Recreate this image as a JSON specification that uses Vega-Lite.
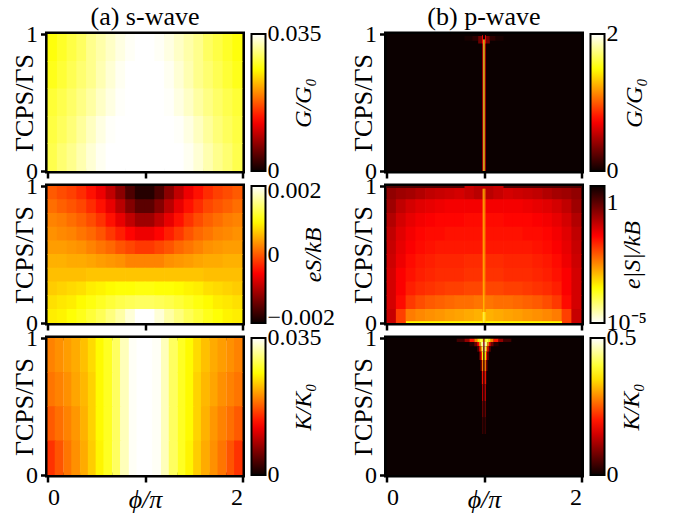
{"$schema":"https://vega.github.io/schema/vega-lite/v6.json","padding":{"left":8.5,"top":1,"right":0,"bottom":0},"background":"white",
"config":{"font":"Liberation Serif","view":{"stroke":"black","strokeWidth":5},
"axis":{"grid":false,"domain":false,"tickColor":"black","tickWidth":2.5,"tickSize":7,"labelFont":"Liberation Serif","titleFont":"Liberation Serif","labelFontSize":24,"titleFontSize":26,"labelColor":"black","titleColor":"black","titleFontWeight":"normal","labelPadding":3,"format":"d"},
"legend":{"type":"gradient","orient":"right","offset":9,"gradientLength":137,"gradientThickness":14,"gradientStrokeColor":"black","gradientStrokeWidth":2,"labelFont":"Liberation Serif","labelFontSize":24,"labelColor":"black","labelOffset":5,"titleFont":"Liberation Serif","titleFontSize":24,"titleFontWeight":"normal","titleFontStyle":"italic","titleColor":"black","titleOrient":"right","titleAnchor":"middle","labelOverlap":false},
"title":{"font":"Liberation Serif","fontSize":26,"fontWeight":"normal","color":"black","anchor":"middle","offset":-8}},
"columns":2,"bounds":"flush","spacing":{"row":15,"column":144},
"resolve":{"scale":{"color":"independent"}},
"concat":[
{"width":195,"height":137,"title":"(a) s-wave","data":{"values":[
{"x":0.05,"y":0.9,"v":0.0265},{"x":0.15,"y":0.9,"v":0.0275},{"x":0.25,"y":0.9,"v":0.0285},{"x":0.35,"y":0.9,"v":0.0295},{"x":0.45,"y":0.9,"v":0.031},{"x":0.55,"y":0.9,"v":0.032},{"x":0.65,"y":0.9,"v":0.033},{"x":0.75,"y":0.9,"v":0.034},{"x":0.85,"y":0.9,"v":0.0347},{"x":0.95,"y":0.9,"v":0.035},{"x":1.05,"y":0.9,"v":0.035},{"x":1.15,"y":0.9,"v":0.0347},{"x":1.25,"y":0.9,"v":0.034},{"x":1.35,"y":0.9,"v":0.033},{"x":1.45,"y":0.9,"v":0.032},{"x":1.55,"y":0.9,"v":0.031},{"x":1.65,"y":0.9,"v":0.0295},{"x":1.75,"y":0.9,"v":0.0285},{"x":1.85,"y":0.9,"v":0.0275},{"x":1.95,"y":0.9,"v":0.0265},
{"x":0.05,"y":0.7,"v":0.027},{"x":0.15,"y":0.7,"v":0.028},{"x":0.25,"y":0.7,"v":0.029},{"x":0.35,"y":0.7,"v":0.03},{"x":0.45,"y":0.7,"v":0.031},{"x":0.55,"y":0.7,"v":0.0323},{"x":0.65,"y":0.7,"v":0.0335},{"x":0.75,"y":0.7,"v":0.0345},{"x":0.85,"y":0.7,"v":0.035},{"x":0.95,"y":0.7,"v":0.035},{"x":1.05,"y":0.7,"v":0.035},{"x":1.15,"y":0.7,"v":0.035},{"x":1.25,"y":0.7,"v":0.0345},{"x":1.35,"y":0.7,"v":0.0335},{"x":1.45,"y":0.7,"v":0.0323},{"x":1.55,"y":0.7,"v":0.031},{"x":1.65,"y":0.7,"v":0.03},{"x":1.75,"y":0.7,"v":0.029},{"x":1.85,"y":0.7,"v":0.028},{"x":1.95,"y":0.7,"v":0.027},
{"x":0.05,"y":0.5,"v":0.028},{"x":0.15,"y":0.5,"v":0.0288},{"x":0.25,"y":0.5,"v":0.0297},{"x":0.35,"y":0.5,"v":0.0307},{"x":0.45,"y":0.5,"v":0.0318},{"x":0.55,"y":0.5,"v":0.033},{"x":0.65,"y":0.5,"v":0.034},{"x":0.75,"y":0.5,"v":0.0348},{"x":0.85,"y":0.5,"v":0.035},{"x":0.95,"y":0.5,"v":0.035},{"x":1.05,"y":0.5,"v":0.035},{"x":1.15,"y":0.5,"v":0.035},{"x":1.25,"y":0.5,"v":0.0348},{"x":1.35,"y":0.5,"v":0.034},{"x":1.45,"y":0.5,"v":0.033},{"x":1.55,"y":0.5,"v":0.0318},{"x":1.65,"y":0.5,"v":0.0307},{"x":1.75,"y":0.5,"v":0.0297},{"x":1.85,"y":0.5,"v":0.0288},{"x":1.95,"y":0.5,"v":0.028},
{"x":0.05,"y":0.3,"v":0.0284},{"x":0.15,"y":0.3,"v":0.0293},{"x":0.25,"y":0.3,"v":0.0303},{"x":0.35,"y":0.3,"v":0.0315},{"x":0.45,"y":0.3,"v":0.0328},{"x":0.55,"y":0.3,"v":0.034},{"x":0.65,"y":0.3,"v":0.0348},{"x":0.75,"y":0.3,"v":0.035},{"x":0.85,"y":0.3,"v":0.035},{"x":0.95,"y":0.3,"v":0.035},{"x":1.05,"y":0.3,"v":0.035},{"x":1.15,"y":0.3,"v":0.035},{"x":1.25,"y":0.3,"v":0.035},{"x":1.35,"y":0.3,"v":0.0348},{"x":1.45,"y":0.3,"v":0.034},{"x":1.55,"y":0.3,"v":0.0328},{"x":1.65,"y":0.3,"v":0.0315},{"x":1.75,"y":0.3,"v":0.0303},{"x":1.85,"y":0.3,"v":0.0293},{"x":1.95,"y":0.3,"v":0.0284},
{"x":0.05,"y":0.1,"v":0.0288},{"x":0.15,"y":0.1,"v":0.03},{"x":0.25,"y":0.1,"v":0.031},{"x":0.35,"y":0.1,"v":0.0322},{"x":0.45,"y":0.1,"v":0.0335},{"x":0.55,"y":0.1,"v":0.0345},{"x":0.65,"y":0.1,"v":0.035},{"x":0.75,"y":0.1,"v":0.035},{"x":0.85,"y":0.1,"v":0.035},{"x":0.95,"y":0.1,"v":0.035},{"x":1.05,"y":0.1,"v":0.035},{"x":1.15,"y":0.1,"v":0.035},{"x":1.25,"y":0.1,"v":0.035},{"x":1.35,"y":0.1,"v":0.035},{"x":1.45,"y":0.1,"v":0.0345},{"x":1.55,"y":0.1,"v":0.0335},{"x":1.65,"y":0.1,"v":0.0322},{"x":1.75,"y":0.1,"v":0.031},{"x":1.85,"y":0.1,"v":0.03},{"x":1.95,"y":0.1,"v":0.0288}
]},"mark":{"type":"rect","width":10.5,"height":28,"clip":true},"encoding":{
"x":{"field":"x","type":"quantitative","scale":{"domain":[0,2],"nice":false},"axis":{"values":[0,1,2],"labels":false,"title":null}},
"y":{"field":"y","type":"quantitative","scale":{"domain":[0,1],"nice":false},"axis":{"values":[0,1],"title":"ΓCPS/ΓS","titlePadding":-12}},
"color":{"field":"v","type":"quantitative","scale":{"domain":[0,0.0128,0.0261,0.035],"range":["#0b0000","#ff0000","#ffff00","#ffffff"],"interpolate":"rgb"},"legend":{"title":"G/G₀","values":[0,0.035],"format":".3~f","titlePadding":-6,"encode":{"labels":{"update":{"baseline":{"value":"middle"}}},"title":{"update":{"angle":{"value":270}}}}}}}},
{"width":195,"height":137,"title":"(b) p-wave","data":{"values":[
{"x":0,"X":2,"y":0,"Y":1,"v":0},
{"x":0.98,"X":0.99,"y":0,"Y":0.96,"v":0.45},{"x":0.99,"X":0.997,"y":0,"Y":0.96,"v":1.25},{"x":0.997,"X":1.003,"y":0,"Y":0.96,"v":1.75},{"x":1.003,"X":1.01,"y":0,"Y":0.96,"v":1.25},{"x":1.01,"X":1.02,"y":0,"Y":0.96,"v":0.45},
{"x":0.8,"X":0.88,"y":0.95,"Y":0.985,"v":0.04},{"x":0.88,"X":0.94,"y":0.95,"Y":0.985,"v":0.1},{"x":0.94,"X":0.98,"y":0.93,"Y":0.985,"v":0.3},{"x":0.98,"X":0.99,"y":0.93,"Y":0.99,"v":0.75},{"x":1.01,"X":1.02,"y":0.93,"Y":0.99,"v":0.75},{"x":1.02,"X":1.06,"y":0.93,"Y":0.985,"v":0.3},{"x":1.06,"X":1.12,"y":0.95,"Y":0.985,"v":0.1},{"x":1.12,"X":1.2,"y":0.95,"Y":0.985,"v":0.04}
]},"mark":{"type":"rect","clip":true},"encoding":{
"x":{"field":"x","type":"quantitative","scale":{"domain":[0,2],"nice":false},"axis":{"values":[0,1,2],"labels":false,"title":null}},"x2":{"field":"X"},
"y":{"field":"y","type":"quantitative","scale":{"domain":[0,1],"nice":false},"axis":{"values":[0,1],"title":"ΓCPS/ΓS","titlePadding":-12}},"y2":{"field":"Y"},
"color":{"field":"v","type":"quantitative","scale":{"domain":[0,0.73,1.49,2],"range":["#0b0000","#ff0000","#ffff00","#ffffff"],"interpolate":"rgb"},"legend":{"title":"G/G₀","values":[0,2],"titlePadding":28,"encode":{"labels":{"update":{"baseline":{"value":"middle"}}},"title":{"update":{"angle":{"value":270}}}}}}}},
{"width":195,"height":137,"data":{"values":[
{"x":0.05,"y":0.95,"v":0},{"x":0.15,"y":0.95,"v":-0.00009},{"x":0.25,"y":0.95,"v":-0.00017},{"x":0.35,"y":0.95,"v":-0.0003},{"x":0.45,"y":0.95,"v":-0.00048},{"x":0.55,"y":0.95,"v":-0.00069},{"x":0.65,"y":0.95,"v":-0.00099},{"x":0.75,"y":0.95,"v":-0.00134},{"x":0.85,"y":0.95,"v":-0.00173},{"x":0.95,"y":0.95,"v":-0.00199},{"x":1.05,"y":0.95,"v":-0.00199},{"x":1.15,"y":0.95,"v":-0.00173},{"x":1.25,"y":0.95,"v":-0.00134},{"x":1.35,"y":0.95,"v":-0.00099},{"x":1.45,"y":0.95,"v":-0.00069},{"x":1.55,"y":0.95,"v":-0.00048},{"x":1.65,"y":0.95,"v":-0.0003},{"x":1.75,"y":0.95,"v":-0.00017},{"x":1.85,"y":0.95,"v":-0.00009},{"x":1.95,"y":0.95,"v":0},
{"x":0.05,"y":0.85,"v":0.00013},{"x":0.15,"y":0.85,"v":0.00004},{"x":0.25,"y":0.85,"v":-0.00004},{"x":0.35,"y":0.85,"v":-0.00013},{"x":0.45,"y":0.85,"v":-0.0003},{"x":0.55,"y":0.85,"v":-0.00048},{"x":0.65,"y":0.85,"v":-0.00073},{"x":0.75,"y":0.85,"v":-0.00104},{"x":0.85,"y":0.85,"v":-0.00138},{"x":0.95,"y":0.85,"v":-0.00164},{"x":1.05,"y":0.85,"v":-0.00164},{"x":1.15,"y":0.85,"v":-0.00138},{"x":1.25,"y":0.85,"v":-0.00104},{"x":1.35,"y":0.85,"v":-0.00073},{"x":1.45,"y":0.85,"v":-0.00048},{"x":1.55,"y":0.85,"v":-0.0003},{"x":1.65,"y":0.85,"v":-0.00013},{"x":1.75,"y":0.85,"v":-0.00004},{"x":1.85,"y":0.85,"v":0.00004},{"x":1.95,"y":0.85,"v":0.00013},
{"x":0.05,"y":0.75,"v":0.00026},{"x":0.15,"y":0.75,"v":0.00022},{"x":0.25,"y":0.75,"v":0.00013},{"x":0.35,"y":0.75,"v":0.00004},{"x":0.45,"y":0.75,"v":-0.00009},{"x":0.55,"y":0.75,"v":-0.00026},{"x":0.65,"y":0.75,"v":-0.00048},{"x":0.75,"y":0.75,"v":-0.00073},{"x":0.85,"y":0.75,"v":-0.00099},{"x":0.95,"y":0.75,"v":-0.00121},{"x":1.05,"y":0.75,"v":-0.00121},{"x":1.15,"y":0.75,"v":-0.00099},{"x":1.25,"y":0.75,"v":-0.00073},{"x":1.35,"y":0.75,"v":-0.00048},{"x":1.45,"y":0.75,"v":-0.00026},{"x":1.55,"y":0.75,"v":-0.00009},{"x":1.65,"y":0.75,"v":0.00004},{"x":1.75,"y":0.75,"v":0.00013},{"x":1.85,"y":0.75,"v":0.00022},{"x":1.95,"y":0.75,"v":0.00026},
{"x":0.05,"y":0.65,"v":0.00035},{"x":0.15,"y":0.65,"v":0.0003},{"x":0.25,"y":0.65,"v":0.00026},{"x":0.35,"y":0.65,"v":0.00017},{"x":0.45,"y":0.65,"v":0.00009},{"x":0.55,"y":0.65,"v":-0.00004},{"x":0.65,"y":0.65,"v":-0.00022},{"x":0.75,"y":0.65,"v":-0.00039},{"x":0.85,"y":0.65,"v":-0.00056},{"x":0.95,"y":0.65,"v":-0.00069},{"x":1.05,"y":0.65,"v":-0.00069},{"x":1.15,"y":0.65,"v":-0.00056},{"x":1.25,"y":0.65,"v":-0.00039},{"x":1.35,"y":0.65,"v":-0.00022},{"x":1.45,"y":0.65,"v":-0.00004},{"x":1.55,"y":0.65,"v":0.00009},{"x":1.65,"y":0.65,"v":0.00017},{"x":1.75,"y":0.65,"v":0.00026},{"x":1.85,"y":0.65,"v":0.0003},{"x":1.95,"y":0.65,"v":0.00035},
{"x":0.05,"y":0.55,"v":0.00043},{"x":0.15,"y":0.55,"v":0.00043},{"x":0.25,"y":0.55,"v":0.00039},{"x":0.35,"y":0.55,"v":0.00035},{"x":0.45,"y":0.55,"v":0.00026},{"x":0.55,"y":0.55,"v":0.00017},{"x":0.65,"y":0.55,"v":0.00009},{"x":0.75,"y":0.55,"v":-0.00004},{"x":0.85,"y":0.55,"v":-0.00013},{"x":0.95,"y":0.55,"v":-0.00022},{"x":1.05,"y":0.55,"v":-0.00022},{"x":1.15,"y":0.55,"v":-0.00013},{"x":1.25,"y":0.55,"v":-0.00004},{"x":1.35,"y":0.55,"v":0.00009},{"x":1.45,"y":0.55,"v":0.00017},{"x":1.55,"y":0.55,"v":0.00026},{"x":1.65,"y":0.55,"v":0.00035},{"x":1.75,"y":0.55,"v":0.00039},{"x":1.85,"y":0.55,"v":0.00043},{"x":1.95,"y":0.55,"v":0.00043},
{"x":0.05,"y":0.45,"v":0.00056},{"x":0.15,"y":0.45,"v":0.00056},{"x":0.25,"y":0.45,"v":0.00052},{"x":0.35,"y":0.45,"v":0.00052},{"x":0.45,"y":0.45,"v":0.00048},{"x":0.55,"y":0.45,"v":0.00043},{"x":0.65,"y":0.45,"v":0.00039},{"x":0.75,"y":0.45,"v":0.00035},{"x":0.85,"y":0.45,"v":0.00026},{"x":0.95,"y":0.45,"v":0.00026},{"x":1.05,"y":0.45,"v":0.00026},{"x":1.15,"y":0.45,"v":0.00026},{"x":1.25,"y":0.45,"v":0.00035},{"x":1.35,"y":0.45,"v":0.00039},{"x":1.45,"y":0.45,"v":0.00043},{"x":1.55,"y":0.45,"v":0.00048},{"x":1.65,"y":0.45,"v":0.00052},{"x":1.75,"y":0.45,"v":0.00052},{"x":1.85,"y":0.45,"v":0.00056},{"x":1.95,"y":0.45,"v":0.00056},
{"x":0.05,"y":0.35,"v":0.00065},{"x":0.15,"y":0.35,"v":0.00065},{"x":0.25,"y":0.35,"v":0.00065},{"x":0.35,"y":0.35,"v":0.00065},{"x":0.45,"y":0.35,"v":0.00069},{"x":0.55,"y":0.35,"v":0.00069},{"x":0.65,"y":0.35,"v":0.00069},{"x":0.75,"y":0.35,"v":0.00069},{"x":0.85,"y":0.35,"v":0.00069},{"x":0.95,"y":0.35,"v":0.00069},{"x":1.05,"y":0.35,"v":0.00069},{"x":1.15,"y":0.35,"v":0.00069},{"x":1.25,"y":0.35,"v":0.00069},{"x":1.35,"y":0.35,"v":0.00069},{"x":1.45,"y":0.35,"v":0.00069},{"x":1.55,"y":0.35,"v":0.00069},{"x":1.65,"y":0.35,"v":0.00065},{"x":1.75,"y":0.35,"v":0.00065},{"x":1.85,"y":0.35,"v":0.00065},{"x":1.95,"y":0.35,"v":0.00065},
{"x":0.05,"y":0.25,"v":0.00073},{"x":0.15,"y":0.25,"v":0.00078},{"x":0.25,"y":0.25,"v":0.00082},{"x":0.35,"y":0.25,"v":0.00086},{"x":0.45,"y":0.25,"v":0.00095},{"x":0.55,"y":0.25,"v":0.00099},{"x":0.65,"y":0.25,"v":0.00104},{"x":0.75,"y":0.25,"v":0.00108},{"x":0.85,"y":0.25,"v":0.00108},{"x":0.95,"y":0.25,"v":0.00112},{"x":1.05,"y":0.25,"v":0.00112},{"x":1.15,"y":0.25,"v":0.00108},{"x":1.25,"y":0.25,"v":0.00108},{"x":1.35,"y":0.25,"v":0.00104},{"x":1.45,"y":0.25,"v":0.00099},{"x":1.55,"y":0.25,"v":0.00095},{"x":1.65,"y":0.25,"v":0.00086},{"x":1.75,"y":0.25,"v":0.00082},{"x":1.85,"y":0.25,"v":0.00078},{"x":1.95,"y":0.25,"v":0.00073},
{"x":0.05,"y":0.15,"v":0.00086},{"x":0.15,"y":0.15,"v":0.00091},{"x":0.25,"y":0.15,"v":0.00095},{"x":0.35,"y":0.15,"v":0.00104},{"x":0.45,"y":0.15,"v":0.00112},{"x":0.55,"y":0.15,"v":0.00121},{"x":0.65,"y":0.15,"v":0.0013},{"x":0.75,"y":0.15,"v":0.00138},{"x":0.85,"y":0.15,"v":0.00143},{"x":0.95,"y":0.15,"v":0.00147},{"x":1.05,"y":0.15,"v":0.00147},{"x":1.15,"y":0.15,"v":0.00143},{"x":1.25,"y":0.15,"v":0.00138},{"x":1.35,"y":0.15,"v":0.0013},{"x":1.45,"y":0.15,"v":0.00121},{"x":1.55,"y":0.15,"v":0.00112},{"x":1.65,"y":0.15,"v":0.00104},{"x":1.75,"y":0.15,"v":0.00095},{"x":1.85,"y":0.15,"v":0.00091},{"x":1.95,"y":0.15,"v":0.00086},
{"x":0.05,"y":0.05,"v":0.00095},{"x":0.15,"y":0.05,"v":0.00099},{"x":0.25,"y":0.05,"v":0.00108},{"x":0.35,"y":0.05,"v":0.00117},{"x":0.45,"y":0.05,"v":0.0013},{"x":0.55,"y":0.05,"v":0.00143},{"x":0.65,"y":0.05,"v":0.0016},{"x":0.75,"y":0.05,"v":0.00177},{"x":0.85,"y":0.05,"v":0.00199},{"x":0.95,"y":0.05,"v":0.00216},{"x":1.05,"y":0.05,"v":0.00216},{"x":1.15,"y":0.05,"v":0.00199},{"x":1.25,"y":0.05,"v":0.00177},{"x":1.35,"y":0.05,"v":0.0016},{"x":1.45,"y":0.05,"v":0.00143},{"x":1.55,"y":0.05,"v":0.0013},{"x":1.65,"y":0.05,"v":0.00117},{"x":1.75,"y":0.05,"v":0.00108},{"x":1.85,"y":0.05,"v":0.00099},{"x":1.95,"y":0.05,"v":0.00095}
]},"mark":{"type":"rect","width":10.5,"height":14.5,"clip":true},"encoding":{
"x":{"field":"x","type":"quantitative","scale":{"domain":[0,2],"nice":false},"axis":{"values":[0,1,2],"labels":false,"title":null}},
"y":{"field":"y","type":"quantitative","scale":{"domain":[0,1],"nice":false},"axis":{"values":[0,1],"title":"ΓCPS/ΓS","titlePadding":-12}},
"color":{"field":"v","type":"quantitative","scale":{"domain":[-0.00216,-0.00058,0.00106,0.00216],"range":["#0b0000","#ff0000","#ffff00","#ffffff"],"interpolate":"rgb"},"legend":{"title":"eS/kB","values":[-0.002,0,0.002],"format":".3~f","titlePadding":-10,"encode":{"labels":{"update":{"baseline":{"value":"middle"}}},"title":{"update":{"angle":{"value":270}}}}}}}},
{"width":195,"height":137,"layer":[{"data":{"values":[
{"x":0.05,"y":0.95,"v":0.363},{"x":0.15,"y":0.95,"v":0.279},{"x":0.25,"y":0.95,"v":0.245},{"x":0.35,"y":0.95,"v":0.188},{"x":0.45,"y":0.95,"v":0.145},{"x":0.55,"y":0.95,"v":0.127},{"x":0.65,"y":0.95,"v":0.112},{"x":0.75,"y":0.95,"v":0.098},{"x":0.85,"y":0.95,"v":0.127},{"x":0.95,"y":0.95,"v":0.165},{"x":1.05,"y":0.95,"v":0.165},{"x":1.15,"y":0.95,"v":0.127},{"x":1.25,"y":0.95,"v":0.098},{"x":1.35,"y":0.95,"v":0.112},{"x":1.45,"y":0.95,"v":0.127},{"x":1.55,"y":0.95,"v":0.145},{"x":1.65,"y":0.95,"v":0.188},{"x":1.75,"y":0.95,"v":0.245},{"x":1.85,"y":0.95,"v":0.279},{"x":1.95,"y":0.95,"v":0.363},
{"x":0.05,"y":0.85,"v":0.279},{"x":0.15,"y":0.85,"v":0.145},{"x":0.25,"y":0.85,"v":0.098},{"x":0.35,"y":0.85,"v":0.0755},{"x":0.45,"y":0.85,"v":0.0662},{"x":0.55,"y":0.85,"v":0.058},{"x":0.65,"y":0.85,"v":0.051},{"x":0.75,"y":0.85,"v":0.051},{"x":0.85,"y":0.85,"v":0.051},{"x":0.95,"y":0.85,"v":0.051},{"x":1.05,"y":0.85,"v":0.051},{"x":1.15,"y":0.85,"v":0.051},{"x":1.25,"y":0.85,"v":0.051},{"x":1.35,"y":0.85,"v":0.051},{"x":1.45,"y":0.85,"v":0.058},{"x":1.55,"y":0.85,"v":0.0662},{"x":1.65,"y":0.85,"v":0.0755},{"x":1.75,"y":0.85,"v":0.098},{"x":1.85,"y":0.85,"v":0.145},{"x":1.95,"y":0.85,"v":0.279},
{"x":0.05,"y":0.75,"v":0.188},{"x":0.15,"y":0.75,"v":0.098},{"x":0.25,"y":0.75,"v":0.0662},{"x":0.35,"y":0.75,"v":0.051},{"x":0.45,"y":0.75,"v":0.0447},{"x":0.55,"y":0.75,"v":0.0392},{"x":0.65,"y":0.75,"v":0.0392},{"x":0.75,"y":0.75,"v":0.0392},{"x":0.85,"y":0.75,"v":0.0344},{"x":0.95,"y":0.75,"v":0.0344},{"x":1.05,"y":0.75,"v":0.0344},{"x":1.15,"y":0.75,"v":0.0344},{"x":1.25,"y":0.75,"v":0.0392},{"x":1.35,"y":0.75,"v":0.0392},{"x":1.45,"y":0.75,"v":0.0392},{"x":1.55,"y":0.75,"v":0.0447},{"x":1.65,"y":0.75,"v":0.051},{"x":1.75,"y":0.75,"v":0.0662},{"x":1.85,"y":0.75,"v":0.098},{"x":1.95,"y":0.75,"v":0.188},
{"x":0.05,"y":0.65,"v":0.145},{"x":0.15,"y":0.65,"v":0.0755},{"x":0.25,"y":0.65,"v":0.051},{"x":0.35,"y":0.65,"v":0.0392},{"x":0.45,"y":0.65,"v":0.0344},{"x":0.55,"y":0.65,"v":0.0344},{"x":0.65,"y":0.65,"v":0.0302},{"x":0.75,"y":0.65,"v":0.0302},{"x":0.85,"y":0.65,"v":0.0302},{"x":0.95,"y":0.65,"v":0.0302},{"x":1.05,"y":0.65,"v":0.0302},{"x":1.15,"y":0.65,"v":0.0302},{"x":1.25,"y":0.65,"v":0.0302},{"x":1.35,"y":0.65,"v":0.0302},{"x":1.45,"y":0.65,"v":0.0344},{"x":1.55,"y":0.65,"v":0.0344},{"x":1.65,"y":0.65,"v":0.0392},{"x":1.75,"y":0.65,"v":0.051},{"x":1.85,"y":0.65,"v":0.0755},{"x":1.95,"y":0.65,"v":0.145},
{"x":0.05,"y":0.55,"v":0.127},{"x":0.15,"y":0.55,"v":0.0662},{"x":0.25,"y":0.55,"v":0.0447},{"x":0.35,"y":0.55,"v":0.0344},{"x":0.45,"y":0.55,"v":0.0302},{"x":0.55,"y":0.55,"v":0.0265},{"x":0.65,"y":0.55,"v":0.0265},{"x":0.75,"y":0.55,"v":0.0265},{"x":0.85,"y":0.55,"v":0.0265},{"x":0.95,"y":0.55,"v":0.0265},{"x":1.05,"y":0.55,"v":0.0265},{"x":1.15,"y":0.55,"v":0.0265},{"x":1.25,"y":0.55,"v":0.0265},{"x":1.35,"y":0.55,"v":0.0265},{"x":1.45,"y":0.55,"v":0.0265},{"x":1.55,"y":0.55,"v":0.0302},{"x":1.65,"y":0.55,"v":0.0344},{"x":1.75,"y":0.55,"v":0.0447},{"x":1.85,"y":0.55,"v":0.0662},{"x":1.95,"y":0.55,"v":0.127},
{"x":0.05,"y":0.45,"v":0.112},{"x":0.15,"y":0.45,"v":0.058},{"x":0.25,"y":0.45,"v":0.0344},{"x":0.35,"y":0.45,"v":0.0265},{"x":0.45,"y":0.45,"v":0.0232},{"x":0.55,"y":0.45,"v":0.0204},{"x":0.65,"y":0.45,"v":0.0204},{"x":0.75,"y":0.45,"v":0.0204},{"x":0.85,"y":0.45,"v":0.0179},{"x":0.95,"y":0.45,"v":0.0179},{"x":1.05,"y":0.45,"v":0.0179},{"x":1.15,"y":0.45,"v":0.0179},{"x":1.25,"y":0.45,"v":0.0204},{"x":1.35,"y":0.45,"v":0.0204},{"x":1.45,"y":0.45,"v":0.0204},{"x":1.55,"y":0.45,"v":0.0232},{"x":1.65,"y":0.45,"v":0.0265},{"x":1.75,"y":0.45,"v":0.0344},{"x":1.85,"y":0.45,"v":0.058},{"x":1.95,"y":0.45,"v":0.112},
{"x":0.05,"y":0.35,"v":0.098},{"x":0.15,"y":0.35,"v":0.0447},{"x":0.25,"y":0.35,"v":0.0302},{"x":0.35,"y":0.35,"v":0.0232},{"x":0.45,"y":0.35,"v":0.0204},{"x":0.55,"y":0.35,"v":0.0179},{"x":0.65,"y":0.35,"v":0.0179},{"x":0.75,"y":0.35,"v":0.0179},{"x":0.85,"y":0.35,"v":0.0157},{"x":0.95,"y":0.35,"v":0.0157},{"x":1.05,"y":0.35,"v":0.0157},{"x":1.15,"y":0.35,"v":0.0157},{"x":1.25,"y":0.35,"v":0.0179},{"x":1.35,"y":0.35,"v":0.0179},{"x":1.45,"y":0.35,"v":0.0179},{"x":1.55,"y":0.35,"v":0.0204},{"x":1.65,"y":0.35,"v":0.0232},{"x":1.75,"y":0.35,"v":0.0302},{"x":1.85,"y":0.35,"v":0.0447},{"x":1.95,"y":0.35,"v":0.098},
{"x":0.05,"y":0.25,"v":0.098},{"x":0.15,"y":0.25,"v":0.0447},{"x":0.25,"y":0.25,"v":0.0232},{"x":0.35,"y":0.25,"v":0.0179},{"x":0.45,"y":0.25,"v":0.0157},{"x":0.55,"y":0.25,"v":0.0136},{"x":0.65,"y":0.25,"v":0.0121},{"x":0.75,"y":0.25,"v":0.0121},{"x":0.85,"y":0.25,"v":0.0107},{"x":0.95,"y":0.25,"v":0.0107},{"x":1.05,"y":0.25,"v":0.0107},{"x":1.15,"y":0.25,"v":0.0107},{"x":1.25,"y":0.25,"v":0.0121},{"x":1.35,"y":0.25,"v":0.0121},{"x":1.45,"y":0.25,"v":0.0136},{"x":1.55,"y":0.25,"v":0.0157},{"x":1.65,"y":0.25,"v":0.0179},{"x":1.75,"y":0.25,"v":0.0232},{"x":1.85,"y":0.25,"v":0.0447},{"x":1.95,"y":0.25,"v":0.098},
{"x":0.05,"y":0.15,"v":0.098},{"x":0.15,"y":0.15,"v":0.0344},{"x":0.25,"y":0.15,"v":0.0136},{"x":0.35,"y":0.15,"v":0.0093},{"x":0.45,"y":0.15,"v":0.0071},{"x":0.55,"y":0.15,"v":0.0062},{"x":0.65,"y":0.15,"v":0.0054},{"x":0.75,"y":0.15,"v":0.0048},{"x":0.85,"y":0.15,"v":0.0048},{"x":0.95,"y":0.15,"v":0.0042},{"x":1.05,"y":0.15,"v":0.0042},{"x":1.15,"y":0.15,"v":0.0048},{"x":1.25,"y":0.15,"v":0.0048},{"x":1.35,"y":0.15,"v":0.0054},{"x":1.45,"y":0.15,"v":0.0062},{"x":1.55,"y":0.15,"v":0.0071},{"x":1.65,"y":0.15,"v":0.0093},{"x":1.75,"y":0.15,"v":0.0136},{"x":1.85,"y":0.15,"v":0.0344},{"x":1.95,"y":0.15,"v":0.098},
{"x":0.05,"y":0.05,"v":0.127},{"x":0.15,"y":0.05,"v":0.0121},{"x":0.25,"y":0.05,"v":0.0037},{"x":0.35,"y":0.05,"v":0.0029},{"x":0.45,"y":0.05,"v":0.0025},{"x":0.55,"y":0.05,"v":0.0022},{"x":0.65,"y":0.05,"v":0.0019},{"x":0.75,"y":0.05,"v":0.0017},{"x":0.85,"y":0.05,"v":0.0015},{"x":0.95,"y":0.05,"v":0.0013},{"x":1.05,"y":0.05,"v":0.0013},{"x":1.15,"y":0.05,"v":0.0015},{"x":1.25,"y":0.05,"v":0.0017},{"x":1.35,"y":0.05,"v":0.0019},{"x":1.45,"y":0.05,"v":0.0022},{"x":1.55,"y":0.05,"v":0.0025},{"x":1.65,"y":0.05,"v":0.0029},{"x":1.75,"y":0.05,"v":0.0037},{"x":1.85,"y":0.05,"v":0.0121},{"x":1.95,"y":0.05,"v":0.127}
]},"mark":{"type":"rect","width":10.5,"height":14.5,"clip":true},"encoding":{
"x":{"field":"x","type":"quantitative","scale":{"domain":[0,2],"nice":false},"axis":{"values":[0,1,2],"labels":false,"title":null}},
"y":{"field":"y","type":"quantitative","scale":{"domain":[0,1],"nice":false},"axis":{"values":[0,1],"title":"ΓCPS/ΓS","titlePadding":-12}},
"color":{"field":"v","type":"quantitative","scale":{"type":"log","domain":[0.00001,0.00028,0.042,5],"range":["#ffffff","#ffff00","#ff0000","#0b0000"],"interpolate":"rgb"},"legend":{"title":"e|S|/kB","values":[0.00001,1],"labelExpr":"datum.value<0.1?'10⁻⁵':'1'","titlePadding":-2,"encode":{"labels":{"update":{"baseline":{"value":"middle"}}},"title":{"update":{"angle":{"value":270}}}}}}}},
{"data":{"values":[
{"x":0.985,"X":0.995,"y":0.08,"Y":0.98,"v":0.0037},{"x":0.995,"X":1.005,"y":0.08,"Y":0.98,"v":0.00039},{"x":1.005,"X":1.015,"y":0.08,"Y":0.98,"v":0.0037},
{"x":0.985,"X":0.995,"y":0,"Y":0.08,"v":0.00039},{"x":0.995,"X":1.005,"y":0,"Y":0.08,"v":0.00005},{"x":1.005,"X":1.015,"y":0,"Y":0.08,"v":0.00039},
{"x":0.2,"X":0.985,"y":0,"Y":0.012,"v":0.00028},{"x":1.015,"X":1.8,"y":0,"Y":0.012,"v":0.00028},
{"x":0,"X":0.8,"y":0.985,"Y":1,"v":1.35},{"x":1.2,"X":2,"y":0.985,"Y":1,"v":1.35}
]},"mark":{"type":"rect","clip":true},"encoding":{"x":{"field":"x","type":"quantitative"},"x2":{"field":"X"},"y":{"field":"y","type":"quantitative"},"y2":{"field":"Y"},"color":{"field":"v","type":"quantitative"}}}
]},
{"width":195,"height":137,"data":{"values":[
{"x":0.04,"y":0.875,"v":0.0196},{"x":0.12,"y":0.875,"v":0.0203},{"x":0.21,"y":0.875,"v":0.021},{"x":0.29,"y":0.875,"v":0.0217},{"x":0.38,"y":0.875,"v":0.0228},{"x":0.46,"y":0.875,"v":0.0242},{"x":0.54,"y":0.875,"v":0.0259},{"x":0.62,"y":0.875,"v":0.0273},{"x":0.71,"y":0.875,"v":0.0294},{"x":0.79,"y":0.875,"v":0.0326},{"x":0.88,"y":0.875,"v":0.0347},{"x":0.96,"y":0.875,"v":0.035},{"x":1.04,"y":0.875,"v":0.035},{"x":1.12,"y":0.875,"v":0.0347},{"x":1.21,"y":0.875,"v":0.0326},{"x":1.29,"y":0.875,"v":0.0294},{"x":1.38,"y":0.875,"v":0.0273},{"x":1.46,"y":0.875,"v":0.0259},{"x":1.54,"y":0.875,"v":0.0242},{"x":1.62,"y":0.875,"v":0.0228},{"x":1.71,"y":0.875,"v":0.0217},{"x":1.79,"y":0.875,"v":0.021},{"x":1.88,"y":0.875,"v":0.0203},{"x":1.96,"y":0.875,"v":0.0196},
{"x":0.04,"y":0.625,"v":0.0189},{"x":0.12,"y":0.625,"v":0.0196},{"x":0.21,"y":0.625,"v":0.0203},{"x":0.29,"y":0.625,"v":0.0214},{"x":0.38,"y":0.625,"v":0.0224},{"x":0.46,"y":0.625,"v":0.0238},{"x":0.54,"y":0.625,"v":0.0259},{"x":0.62,"y":0.625,"v":0.0273},{"x":0.71,"y":0.625,"v":0.0294},{"x":0.79,"y":0.625,"v":0.0326},{"x":0.88,"y":0.625,"v":0.0347},{"x":0.96,"y":0.625,"v":0.035},{"x":1.04,"y":0.625,"v":0.035},{"x":1.12,"y":0.625,"v":0.0347},{"x":1.21,"y":0.625,"v":0.0326},{"x":1.29,"y":0.625,"v":0.0294},{"x":1.38,"y":0.625,"v":0.0273},{"x":1.46,"y":0.625,"v":0.0259},{"x":1.54,"y":0.625,"v":0.0238},{"x":1.62,"y":0.625,"v":0.0224},{"x":1.71,"y":0.625,"v":0.0214},{"x":1.79,"y":0.625,"v":0.0203},{"x":1.88,"y":0.625,"v":0.0196},{"x":1.96,"y":0.625,"v":0.0189},
{"x":0.04,"y":0.375,"v":0.0175},{"x":0.12,"y":0.375,"v":0.0186},{"x":0.21,"y":0.375,"v":0.0196},{"x":0.29,"y":0.375,"v":0.0207},{"x":0.38,"y":0.375,"v":0.0221},{"x":0.46,"y":0.375,"v":0.0238},{"x":0.54,"y":0.375,"v":0.0259},{"x":0.62,"y":0.375,"v":0.0273},{"x":0.71,"y":0.375,"v":0.0294},{"x":0.79,"y":0.375,"v":0.0326},{"x":0.88,"y":0.375,"v":0.0347},{"x":0.96,"y":0.375,"v":0.035},{"x":1.04,"y":0.375,"v":0.035},{"x":1.12,"y":0.375,"v":0.0347},{"x":1.21,"y":0.375,"v":0.0326},{"x":1.29,"y":0.375,"v":0.0294},{"x":1.38,"y":0.375,"v":0.0273},{"x":1.46,"y":0.375,"v":0.0259},{"x":1.54,"y":0.375,"v":0.0238},{"x":1.62,"y":0.375,"v":0.0221},{"x":1.71,"y":0.375,"v":0.0207},{"x":1.79,"y":0.375,"v":0.0196},{"x":1.88,"y":0.375,"v":0.0186},{"x":1.96,"y":0.375,"v":0.0175},
{"x":0.04,"y":0.125,"v":0.0154},{"x":0.12,"y":0.125,"v":0.0172},{"x":0.21,"y":0.125,"v":0.0189},{"x":0.29,"y":0.125,"v":0.0203},{"x":0.38,"y":0.125,"v":0.0217},{"x":0.46,"y":0.125,"v":0.0235},{"x":0.54,"y":0.125,"v":0.0256},{"x":0.62,"y":0.125,"v":0.0273},{"x":0.71,"y":0.125,"v":0.0294},{"x":0.79,"y":0.125,"v":0.0326},{"x":0.88,"y":0.125,"v":0.0347},{"x":0.96,"y":0.125,"v":0.035},{"x":1.04,"y":0.125,"v":0.035},{"x":1.12,"y":0.125,"v":0.0347},{"x":1.21,"y":0.125,"v":0.0326},{"x":1.29,"y":0.125,"v":0.0294},{"x":1.38,"y":0.125,"v":0.0273},{"x":1.46,"y":0.125,"v":0.0256},{"x":1.54,"y":0.125,"v":0.0235},{"x":1.62,"y":0.125,"v":0.0217},{"x":1.71,"y":0.125,"v":0.0203},{"x":1.79,"y":0.125,"v":0.0189},{"x":1.88,"y":0.125,"v":0.0172},{"x":1.96,"y":0.125,"v":0.0154}
]},"mark":{"type":"rect","width":9,"height":35,"clip":true},"encoding":{
"x":{"field":"x","type":"quantitative","scale":{"domain":[0,2],"nice":false},"axis":{"values":[0,1,2],"labelExpr":"datum.value==1?'':datum.label","title":"ϕ/π","titleFontStyle":"italic","titlePadding":-23}},
"y":{"field":"y","type":"quantitative","scale":{"domain":[0,1],"nice":false},"axis":{"values":[0,1],"title":"ΓCPS/ΓS","titlePadding":-12}},
"color":{"field":"v","type":"quantitative","scale":{"domain":[0,0.0128,0.0261,0.035],"range":["#0b0000","#ff0000","#ffff00","#ffffff"],"interpolate":"rgb"},"legend":{"title":"K/K₀","values":[0,0.035],"format":".3~f","titlePadding":-6,"encode":{"labels":{"update":{"baseline":{"value":"middle"}}},"title":{"update":{"angle":{"value":270}}}}}}}},
{"width":195,"height":137,"data":{"values":[
{"x":0,"X":2,"y":0,"Y":1,"v":0},
{"x":0.72,"X":0.8,"y":0.97,"Y":0.995,"v":0.04},{"x":0.8,"X":0.85,"y":0.97,"Y":0.995,"v":0.1},{"x":0.85,"X":0.9,"y":0.97,"Y":0.995,"v":0.2},{"x":0.9,"X":0.93,"y":0.97,"Y":0.995,"v":0.275},{"x":0.93,"X":0.95,"y":0.97,"Y":0.995,"v":0.35},{"x":0.95,"X":0.98,"y":0.97,"Y":0.995,"v":0.4},{"x":0.98,"X":0.994,"y":0.97,"Y":0.995,"v":0.4},{"x":0.994,"X":1.006,"y":0.97,"Y":0.995,"v":0.15},{"x":1.006,"X":1.02,"y":0.97,"Y":0.995,"v":0.4},{"x":1.02,"X":1.05,"y":0.97,"Y":0.995,"v":0.4},{"x":1.05,"X":1.07,"y":0.97,"Y":0.995,"v":0.35},{"x":1.07,"X":1.1,"y":0.97,"Y":0.995,"v":0.275},{"x":1.1,"X":1.15,"y":0.97,"Y":0.995,"v":0.2},{"x":1.15,"X":1.2,"y":0.97,"Y":0.995,"v":0.1},{"x":1.2,"X":1.28,"y":0.97,"Y":0.995,"v":0.04},
{"x":0.85,"X":0.9,"y":0.94,"Y":0.97,"v":0.02},{"x":0.9,"X":0.93,"y":0.94,"Y":0.97,"v":0.075},{"x":0.93,"X":0.95,"y":0.94,"Y":0.97,"v":0.175},{"x":0.95,"X":0.965,"y":0.94,"Y":0.97,"v":0.3},{"x":0.965,"X":0.98,"y":0.94,"Y":0.97,"v":0.42},{"x":0.98,"X":0.994,"y":0.94,"Y":0.97,"v":0.47},{"x":0.994,"X":1.006,"y":0.94,"Y":0.97,"v":0.15},{"x":1.006,"X":1.02,"y":0.94,"Y":0.97,"v":0.47},{"x":1.02,"X":1.035,"y":0.94,"Y":0.97,"v":0.42},{"x":1.035,"X":1.05,"y":0.94,"Y":0.97,"v":0.3},{"x":1.05,"X":1.07,"y":0.94,"Y":0.97,"v":0.175},{"x":1.07,"X":1.1,"y":0.94,"Y":0.97,"v":0.075},{"x":1.1,"X":1.15,"y":0.94,"Y":0.97,"v":0.02},
{"x":0.93,"X":0.95,"y":0.9,"Y":0.94,"v":0.05},{"x":0.95,"X":0.965,"y":0.9,"Y":0.94,"v":0.175},{"x":0.965,"X":0.98,"y":0.9,"Y":0.94,"v":0.3},{"x":0.98,"X":0.994,"y":0.9,"Y":0.94,"v":0.43},{"x":0.994,"X":1.006,"y":0.9,"Y":0.94,"v":0.1},{"x":1.006,"X":1.02,"y":0.9,"Y":0.94,"v":0.43},{"x":1.02,"X":1.035,"y":0.9,"Y":0.94,"v":0.3},{"x":1.035,"X":1.05,"y":0.9,"Y":0.94,"v":0.175},{"x":1.05,"X":1.07,"y":0.9,"Y":0.94,"v":0.05},
{"x":0.95,"X":0.965,"y":0.84,"Y":0.9,"v":0.06},{"x":0.965,"X":0.98,"y":0.84,"Y":0.9,"v":0.2},{"x":0.98,"X":0.994,"y":0.84,"Y":0.9,"v":0.38},{"x":0.994,"X":1.006,"y":0.84,"Y":0.9,"v":0.07},{"x":1.006,"X":1.02,"y":0.84,"Y":0.9,"v":0.38},{"x":1.02,"X":1.035,"y":0.84,"Y":0.9,"v":0.2},{"x":1.035,"X":1.05,"y":0.84,"Y":0.9,"v":0.06},
{"x":0.965,"X":0.98,"y":0.76,"Y":0.84,"v":0.08},{"x":0.98,"X":0.994,"y":0.76,"Y":0.84,"v":0.28},{"x":0.994,"X":1.006,"y":0.76,"Y":0.84,"v":0.05},{"x":1.006,"X":1.02,"y":0.76,"Y":0.84,"v":0.28},{"x":1.02,"X":1.035,"y":0.76,"Y":0.84,"v":0.08},
{"x":0.97,"X":0.98,"y":0.66,"Y":0.76,"v":0.03},{"x":0.98,"X":0.994,"y":0.66,"Y":0.76,"v":0.2},{"x":0.994,"X":1.006,"y":0.66,"Y":0.76,"v":0.04},{"x":1.006,"X":1.02,"y":0.66,"Y":0.76,"v":0.2},{"x":1.02,"X":1.03,"y":0.66,"Y":0.76,"v":0.03},
{"x":0.98,"X":0.994,"y":0.54,"Y":0.66,"v":0.13},{"x":0.994,"X":1.006,"y":0.54,"Y":0.66,"v":0.02},{"x":1.006,"X":1.02,"y":0.54,"Y":0.66,"v":0.13},
{"x":0.98,"X":0.994,"y":0.42,"Y":0.54,"v":0.07},{"x":1.006,"X":1.02,"y":0.42,"Y":0.54,"v":0.07},
{"x":0.98,"X":0.994,"y":0.3,"Y":0.42,"v":0.035},{"x":1.006,"X":1.02,"y":0.3,"Y":0.42,"v":0.035}
]},"mark":{"type":"rect","clip":true},"encoding":{
"x":{"field":"x","type":"quantitative","scale":{"domain":[0,2],"nice":false},"axis":{"values":[0,1,2],"labelExpr":"datum.value==1?'':datum.label","title":"ϕ/π","titleFontStyle":"italic","titlePadding":-23}},"x2":{"field":"X"},
"y":{"field":"y","type":"quantitative","scale":{"domain":[0,1],"nice":false},"axis":{"values":[0,1],"title":"ΓCPS/ΓS","titlePadding":-12}},"y2":{"field":"Y"},
"color":{"field":"v","type":"quantitative","scale":{"domain":[0,0.1825,0.373,0.5],"range":["#0b0000","#ff0000","#ffff00","#ffffff"],"interpolate":"rgb"},"legend":{"title":"K/K₀","values":[0,0.5],"format":".1~f","titlePadding":7,"encode":{"labels":{"update":{"baseline":{"value":"middle"}}},"title":{"update":{"angle":{"value":270}}}}}}}}
]}
